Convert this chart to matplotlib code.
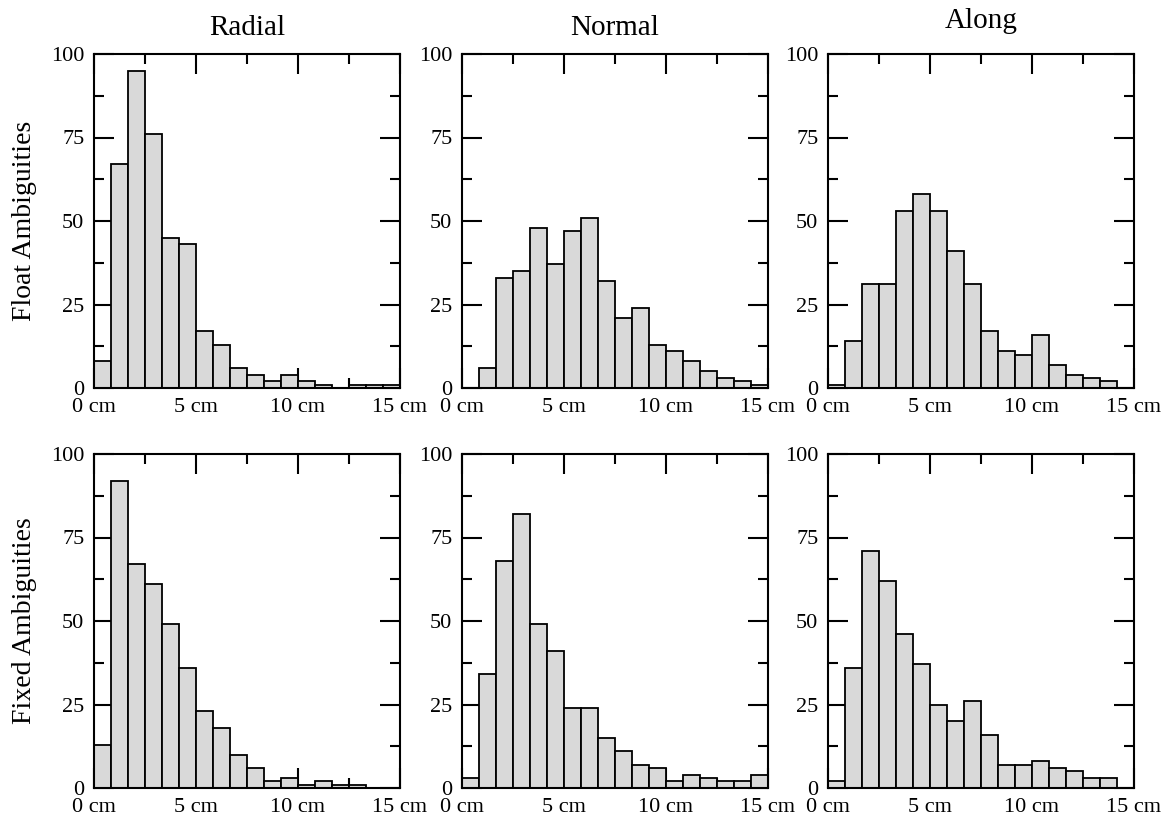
import numpy as np
import matplotlib
matplotlib.use("Agg")
import matplotlib.pyplot as plt
from matplotlib.ticker import MultipleLocator, FixedLocator

plt.rcParams['font.family'] = ['Liberation Serif', 'DejaVu Serif']

# histogram counts, 18 bins from 0 to 15 cm
float_radial = [8, 67, 95, 76, 45, 43, 17, 13, 6, 4, 2, 4, 2, 1, 0, 1, 1, 1]
float_normal = [0, 6, 33, 35, 48, 37, 47, 51, 32, 21, 24, 13, 11, 8, 5, 3, 2, 1]
float_along = [1, 14, 31, 31, 53, 58, 53, 41, 31, 17, 11, 10, 16, 7, 4, 3, 2, 0]
fixed_radial = [13, 92, 67, 61, 49, 36, 23, 18, 10, 6, 2, 3, 1, 2, 1, 1, 0, 0]
fixed_normal = [3, 34, 68, 82, 49, 41, 24, 24, 15, 11, 7, 6, 2, 4, 3, 2, 2, 4]
fixed_along = [2, 36, 71, 62, 46, 37, 25, 20, 26, 16, 7, 7, 8, 6, 5, 3, 3, 0]

col_titles = ['Radial', 'Normal', 'Along']
row_labels = ['Float Ambiguities', 'Fixed Ambiguities']
x_ticks = [0, 5, 10, 15]
x_ticklabels = ['0 cm', '5 cm', '10 cm', '15 cm']
y_ticks = [0, 25, 50, 75, 100]

data = [[float_radial, float_normal, float_along],
        [fixed_radial, fixed_normal, fixed_along]]

edges = np.linspace(0, 15, 19)
bin_w = edges[1] - edges[0]

fig = plt.figure(figsize=(11.73, 8.18), dpi=100)

lefts = [94 / 1173, 462 / 1173, 828 / 1173]
width = 306 / 1173
bottoms = [1 - 388 / 818, 1 - 788 / 818]
height = 334 / 818

for r in range(2):
    for c in range(3):
        ax = fig.add_axes([lefts[c], bottoms[r], width, height])
        ax.set_axisbelow(True)
        ax.bar(edges[:-1], data[r][c], width=bin_w, align='edge',
               color='#d9d9d9', edgecolor='black', linewidth=1.3, zorder=1)
        ax.set_xlim(0, 15)
        ax.set_ylim(0, 100)
        ax.xaxis.set_major_locator(FixedLocator(x_ticks))
        ax.set_xticklabels(x_ticklabels)
        ax.xaxis.set_minor_locator(MultipleLocator(2.5))
        ax.yaxis.set_major_locator(FixedLocator(y_ticks))
        ax.yaxis.set_minor_locator(MultipleLocator(12.5))
        ax.tick_params(which='both', direction='in', top=True, right=True,
                       width=1.5, labelsize=16)
        ax.tick_params(which='major', length=14.5)
        ax.tick_params(which='minor', length=7.2)
        ax.tick_params(axis='x', pad=7)
        ax.tick_params(axis='y', pad=7)
        for sp in ax.spines.values():
            sp.set_linewidth(1.5)
            sp.set_zorder(3)
        if r == 0:
            ax.set_title(col_titles[c], fontsize=21, pad=14 if c < 2 else 19)
        if c == 0:
            ax.set_ylabel(row_labels[r], fontsize=20, labelpad=10)

fig.savefig('out.png', dpi=100)
